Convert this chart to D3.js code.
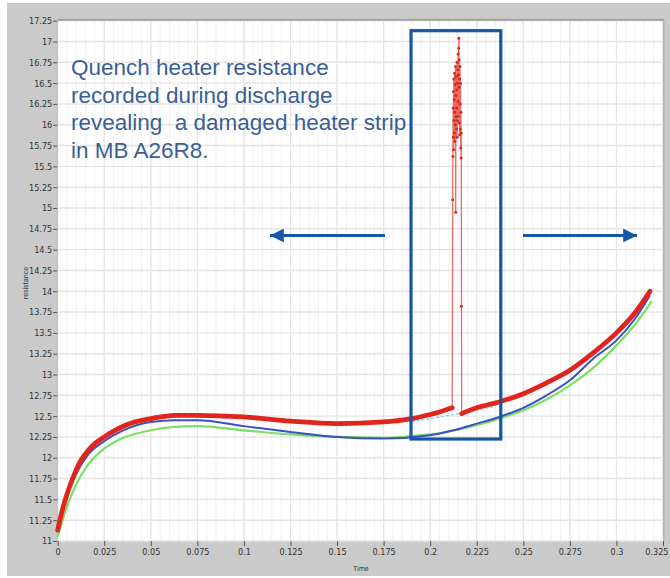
<!DOCTYPE html>
<html><head><meta charset="utf-8">
<script src="https://cdn.jsdelivr.net/npm/d3@7"></script>
<style>html,body{margin:0;padding:0;background:#fff;} svg{display:block;}</style>
</head><body>
<svg id="c" width="670" height="578"></svg>
<script>
// ---------- data ----------
const xTickValues = [0,0.025,0.05,0.075,0.1,0.125,0.15,0.175,0.2,0.225,0.25,0.275,0.3,0.325];
const xTickLabels = ["0","0.025","0.05","0.075","0.1","0.125","0.15","0.175","0.2","0.225","0.25","0.275","0.3","0.325"];
const yTickValues = [11,11.25,11.5,11.75,12,12.25,12.5,12.75,13,13.25,13.5,13.75,14,14.25,14.5,14.75,15,15.25,15.5,15.75,16,16.25,16.5,16.75,17,17.25];
const yTickLabels = ["11","11.25","11.5","11.75","12","12.25","12.5","12.75","13","13.25","13.5","13.75","14","14.25","14.5","14.75","15","15.25","15.5","15.75","16","16.25","16.5","16.75","17","17.25"];

// red (damaged heater) – before and after the spike
const redTimeA = [0,0.002,0.004,0.0065,0.0093,0.0125,0.0164,0.02,0.025,0.0343,0.04,0.05,0.063,0.075,0.1,0.125,0.15,0.175,0.1875,0.2,0.205,0.2118];
const redResA  = [11.13,11.33,11.49,11.66,11.82,11.97,12.09,12.17,12.25,12.37,12.42,12.47,12.51,12.51,12.49,12.44,12.41,12.43,12.46,12.52,12.55,12.6];
const redTimeB = [0.2169,0.225,0.237,0.25,0.2625,0.275,0.2875,0.3,0.3106,0.318];
const redResB  = [12.53,12.6,12.67,12.77,12.9,13.05,13.26,13.5,13.76,14.0];
// spike
const spikeTime = [0.2118,0.2121,0.2122,0.2123,0.2124,0.2125,0.2126,0.2127,0.2128,0.2129,0.2130,0.2131,0.2132,0.2133,0.2134,0.2135,0.2136,0.2137,0.2138,0.2139,0.2140,0.2141,0.2142,0.2143,0.2144,0.2145,0.2146,0.2147,0.2148,0.2149,0.2150,0.2151,0.2152,0.2153,0.2154,0.2155,0.2156,0.2157,0.2158,0.2159,0.2160,0.2161,0.2162,0.2163,0.2164,0.2165,0.2166,0.2167,0.2168,0.2169];
const spikeRes  = [12.6,15.1,15.62,16.2,15.85,16.4,15.7,16.55,16.05,16.3,15.9,16.62,16.15,15.8,16.48,16.0,16.7,14.95,16.35,16.1,16.58,15.95,16.42,16.2,16.75,15.85,16.5,16.05,16.66,16.28,16.85,16.1,16.6,16.92,17.04,16.45,16.78,16.02,16.55,15.88,16.7,16.25,15.95,16.5,15.72,16.15,15.6,15.9,13.82,12.53];
// blue
const blueTime = [0,0.004,0.0093,0.0164,0.025,0.0343,0.05,0.063,0.075,0.1,0.125,0.15,0.175,0.2,0.2125,0.225,0.237,0.25,0.2625,0.275,0.2875,0.3,0.31,0.318];
const blueRes  = [11.12,11.47,11.78,12.04,12.2,12.32,12.43,12.45,12.45,12.38,12.31,12.25,12.23,12.27,12.33,12.41,12.49,12.6,12.75,12.93,13.19,13.41,13.67,13.95];
// green
const greenTime = [0,0.004,0.0093,0.0164,0.025,0.0343,0.05,0.063,0.075,0.1,0.125,0.15,0.175,0.19,0.2,0.225,0.237,0.25,0.2625,0.275,0.2875,0.3,0.31,0.319];
const greenRes  = [11.05,11.35,11.65,11.92,12.11,12.23,12.33,12.37,12.38,12.33,12.28,12.25,12.24,12.26,12.28,12.39,12.47,12.57,12.7,12.87,13.08,13.35,13.6,13.88];
// light blue reference near the spike
const refTime = [0.19,0.2,0.21,0.22,0.235];
const refRes  = [12.43,12.47,12.51,12.55,12.62];

// annotation box (time, resistance) and arrow level
const boxTime = [0.1897,0.2379];
const boxRes  = [12.225,17.13];
const arrowRes = 14.67;

const noteLines = ["Quench heater resistance","recorded during discharge","revealing  a damaged heater strip","in MB A26R8."];

// ---------- drawing ----------
const svg = d3.select("#c");
const x = d3.scaleLinear().domain([0,0.325]).range([57.7,663]);
const y = d3.scaleLinear().domain([11,17.25]).range([541,20.7]);

svg.append("rect").attr("x",0).attr("y",0).attr("width",670).attr("height",578).attr("fill","#ffffff");
svg.append("rect").attr("x",7).attr("y",3).attr("width",663).attr("height",573).attr("fill","#cacaca");
svg.append("rect").attr("x",x(0)).attr("y",y(17.25)).attr("width",x(0.325)-x(0)).attr("height",y(11)-y(17.25))
  .attr("fill","#ffffff");

const grid = svg.append("g");
grid.selectAll("line.minor").data(x.ticks(65)).join("line")
  .attr("x1",d=>x(d)).attr("x2",d=>x(d)).attr("y1",y(17.25)).attr("y2",y(11))
  .attr("stroke","#f1f1f1").attr("stroke-width",1);
grid.selectAll("line.vx").data(xTickValues).join("line").attr("class","vx")
  .attr("x1",d=>x(d)).attr("x2",d=>x(d)).attr("y1",y(17.25)).attr("y2",y(11))
  .attr("stroke","#e4e4e4").attr("stroke-width",1.2);
grid.selectAll("line.hy").data(yTickValues).join("line").attr("class","hy")
  .attr("x1",x(0)).attr("x2",x(0.325)).attr("y1",d=>y(d)).attr("y2",d=>y(d))
  .attr("stroke","#e4e4e4").attr("stroke-width",1.4);

// plot frame
svg.append("line").attr("x1",x(0)).attr("x2",x(0.325)+1).attr("y1",y(17.25)-0.8).attr("y2",y(17.25)-0.8).attr("stroke","#9d9d9d").attr("stroke-width",1.6);
svg.append("line").attr("x1",x(0.325)+0.8).attr("x2",x(0.325)+0.8).attr("y1",y(17.25)).attr("y2",y(11)).attr("stroke","#b5b5b5").attr("stroke-width",1.6);
svg.append("line").attr("x1",x(0)-0.5).attr("x2",x(0)-0.5).attr("y1",y(17.25)).attr("y2",y(11)).attr("stroke","#b8b8b8").attr("stroke-width",1);

// axes
const tickFont = "'Liberation Sans Narrow','DejaVu Sans Condensed',sans-serif";
const yAxis = d3.axisLeft(y).tickValues(yTickValues).tickFormat((d,i)=>yTickLabels[i]).tickSize(4).tickPadding(1);
const gy = svg.append("g").attr("transform",`translate(${x(0)-0.5},0)`).call(yAxis);
const xAxis = d3.axisBottom(x).tickValues(xTickValues).tickFormat((d,i)=>xTickLabels[i]).tickSize(5).tickPadding(3);
const gx = svg.append("g").attr("transform",`translate(0,${y(11)})`).call(xAxis);
[gx,gy].forEach(g=>{
  g.select(".domain").remove();
  g.selectAll(".tick line").attr("stroke","#555").attr("stroke-width",1);
  g.selectAll(".tick text").attr("fill","#333").style("font-family",tickFont).style("font-size","9px");
});
// last x label kept inside the picture
gx.selectAll(".tick text").filter((d,i)=>i===xTickValues.length-1).attr("text-anchor","end").attr("dx","5");

svg.append("text").attr("transform","translate(28,283) rotate(-90)").attr("text-anchor","middle")
  .style("font-family",tickFont).style("font-size","7px").attr("fill","#333").text("resistance");
svg.append("text").attr("x",361).attr("y",571).attr("text-anchor","middle")
  .style("font-family",tickFont).style("font-size","7px").attr("fill","#333").text("Time");

// series
const line = d3.line().x(d=>x(d[0])).y(d=>y(d[1])).curve(d3.curveMonotoneX);
const zip = (a,b)=>a.map((v,i)=>[v,b[i]]);
const lineLin = d3.line().x(d=>x(d[0])).y(d=>y(d[1]));

svg.append("path").attr("d",line(zip(greenTime,greenRes))).attr("fill","none").attr("stroke","#78e062").attr("stroke-width",2.2);
svg.append("path").attr("d",line(zip(blueTime,blueRes))).attr("fill","none").attr("stroke","#3b50c4").attr("stroke-width",2);
svg.append("path").attr("d",line(zip(refTime,refRes))).attr("fill","none").attr("stroke","#8fcdf0").attr("stroke-width",1.4).attr("stroke-dasharray","3,2");
svg.append("path").attr("d",lineLin(zip(spikeTime,spikeRes))).attr("fill","none").attr("stroke","#e33a2c").attr("stroke-opacity",0.75).attr("stroke-width",1.3);
svg.append("g").selectAll("circle").data(zip(spikeTime,spikeRes)).join("circle")
  .attr("cx",d=>x(d[0])).attr("cy",d=>y(d[1])).attr("r",1.5).attr("fill","#d42a1e");
svg.append("path").attr("d",line(zip(redTimeA,redResA))).attr("fill","none").attr("stroke","#e0261c").attr("stroke-width",4.8).attr("stroke-linecap","round");
svg.append("path").attr("d",line(zip(redTimeB,redResB))).attr("fill","none").attr("stroke","#e0261c").attr("stroke-width",4.8).attr("stroke-linecap","round");

// annotation text
svg.append("g").selectAll("text").data(noteLines).join("text")
  .attr("x",71).attr("y",(d,i)=>75+i*27.7)
  .style("font-family","'Liberation Sans',Arial,sans-serif").style("font-size","22.5px")
  .attr("fill","#3a5f96").attr("xml:space","preserve").style("white-space","pre").text(d=>d);

// highlight box
const boxColor = "#1557a5";
svg.append("rect").attr("x",x(boxTime[0])).attr("y",y(boxRes[1])).attr("width",x(boxTime[1])-x(boxTime[0])).attr("height",y(boxRes[0])-y(boxRes[1]))
  .attr("fill","none").attr("stroke",boxColor).attr("stroke-width",3.2);

// arrows
const defs = svg.append("defs");
defs.append("marker").attr("id","ah").attr("viewBox","0 0 10 10").attr("refX",10).attr("refY",5)
  .attr("markerWidth",5).attr("markerHeight",4.6).attr("markerUnits","strokeWidth").attr("orient","auto")
  .append("path").attr("d","M0,0 L10,5 L0,10 z").attr("fill",boxColor);
const arrowY = y(arrowRes);
svg.append("line").attr("x1",385).attr("x2",270).attr("y1",arrowY).attr("y2",arrowY).attr("stroke",boxColor).attr("stroke-width",3).attr("marker-end","url(#ah)");
svg.append("line").attr("x1",523).attr("x2",637).attr("y1",arrowY).attr("y2",arrowY).attr("stroke",boxColor).attr("stroke-width",3).attr("marker-end","url(#ah)");
</script>
</body></html>
